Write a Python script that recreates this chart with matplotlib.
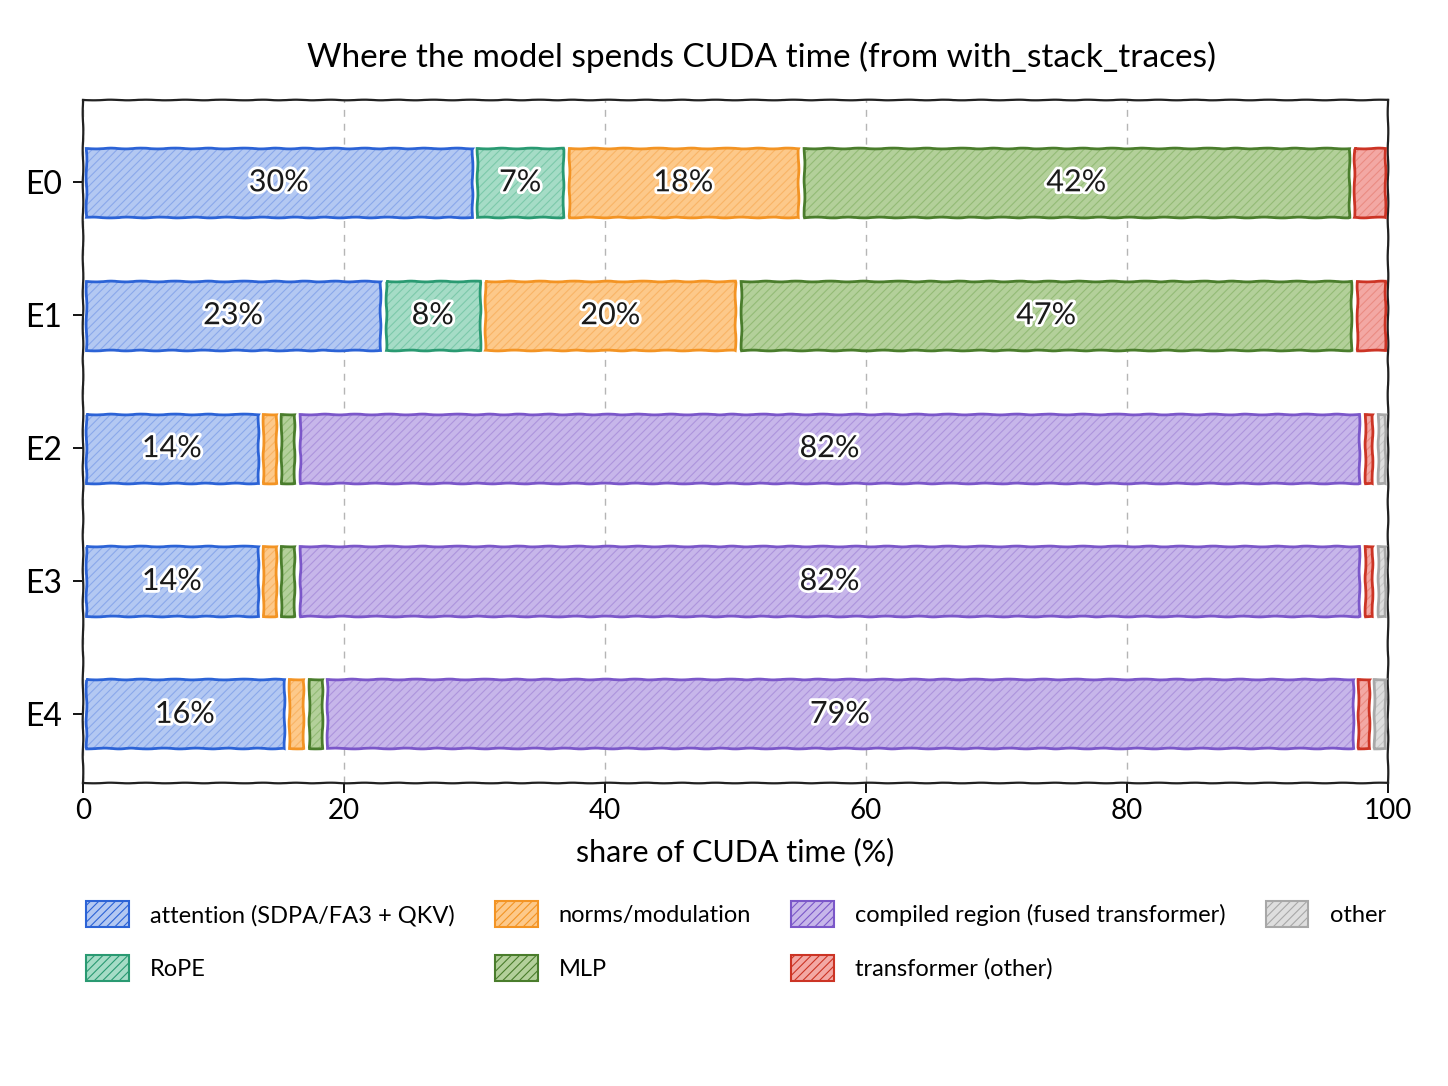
import numpy as np
import matplotlib.pyplot as plt
from matplotlib.patches import Patch
import matplotlib.patheffects as pe

plt.rcParams['font.family'] = ['Lato', 'DejaVu Sans']
plt.rcParams['hatch.linewidth'] = 0.8

runs = ["E0", "E1", "E2", "E3", "E4"]

# share of CUDA time (%) per category
attention = [30.0, 23.0, 13.6, 13.6, 15.6]
rope = [7.0, 7.6, 0.0, 0.0, 0.0]
norms = [18.0, 19.6, 1.4, 1.4, 1.5]
mlp = [42.2, 47.2, 1.4, 1.4, 1.4]
compiled = [0.0, 0.0, 81.6, 81.6, 79.0]
tx_other = [2.8, 2.6, 1.0, 1.0, 1.25]
other = [0.0, 0.0, 1.0, 1.0, 1.25]

labels = ["attention (SDPA/FA3 + QKV)", "RoPE", "norms/modulation", "MLP",
          "compiled region (fused transformer)", "transformer (other)", "other"]
series = [attention, rope, norms, mlp, compiled, tx_other, other]
fills = ["#b3c8f2", "#a5dcc6", "#fdc98a", "#b3d09a", "#c7b6ea", "#f3a8a4", "#dedede"]
hatches = ["#8aa8ea", "#7cc9aa", "#f9b466", "#93bb76", "#ad94dc", "#ea8b83", "#c8c8c8"]
edges = ["#2c63d6", "#2a9a72", "#f39424", "#4a7d2c", "#7b57c9", "#cc3425", "#a8a8a8"]

gap = 0.42
height = 0.52

fig = plt.figure(figsize=(14.48, 10.86), dpi=100)
ax = fig.add_axes([0.0573, 0.279, 0.9013, 0.629])

y = np.arange(len(runs))
left = np.zeros(len(runs))
for vals, fc, hc, ec in zip(series, fills, hatches, edges):
    vals = np.array(vals)
    for i in range(len(runs)):
        if vals[i] <= 0:
            continue
        x0 = left[i] + gap / 2
        w = vals[i] - gap
        ax.barh(y[i], w, left=x0, height=height, color=fc, edgecolor=hc,
                linewidth=0, hatch="////", zorder=2)
        o = ax.barh(y[i], w, left=x0, height=height, fill=False, edgecolor=ec,
                    linewidth=2.0, zorder=3)
        for p in o:
            p.set_sketch_params(0.4, 35, 2.0)
        if vals[i] >= 5:
            ax.text(left[i] + vals[i] / 2, y[i], f"{vals[i]:.0f}%", ha="center", va="center",
                    fontsize=22, color="#1a1a1a", zorder=4,
                    path_effects=[pe.withStroke(linewidth=4, foreground="white")])
    left += vals

ax.set_xlim(0, 100)
ax.set_ylim(4.52, -0.62)
ax.set_yticks(y)
ax.set_yticklabels(runs, fontsize=23)
ax.set_xticks([0, 20, 40, 60, 80, 100])
ax.tick_params(axis="x", labelsize=20, length=7, width=1.3)
ax.tick_params(axis="y", length=7, width=1.3, pad=8)
ax.grid(axis="x", linestyle=(0, (5, 5)), color="#b5b5b5", linewidth=1.0, zorder=0)
ax.set_axisbelow(True)
for s in ax.spines.values():
    s.set_linewidth(1.6)
    s.set_color("#222222")
    s.set_sketch_params(0.3, 40, 2.0)

ax.set_title("Where the model spends CUDA time (from with_stack_traces)", fontsize=24, pad=24, x=0.52)
ax.set_xlabel("share of CUDA time (%)", fontsize=22, labelpad=10)

handles = [Patch(facecolor=fc, edgecolor=ec, hatch="////", linewidth=1.5)
           for fc, ec in zip(fills, edges)]
fig.legend(handles, labels, ncol=4, loc="upper left", bbox_to_anchor=(0.045, 0.19),
           frameon=False, fontsize=17, handlelength=1.8, handleheight=1.35,
           columnspacing=1.7, labelspacing=1.15, handletextpad=0.9)

fig.savefig("out.png", dpi=100, facecolor="white")
